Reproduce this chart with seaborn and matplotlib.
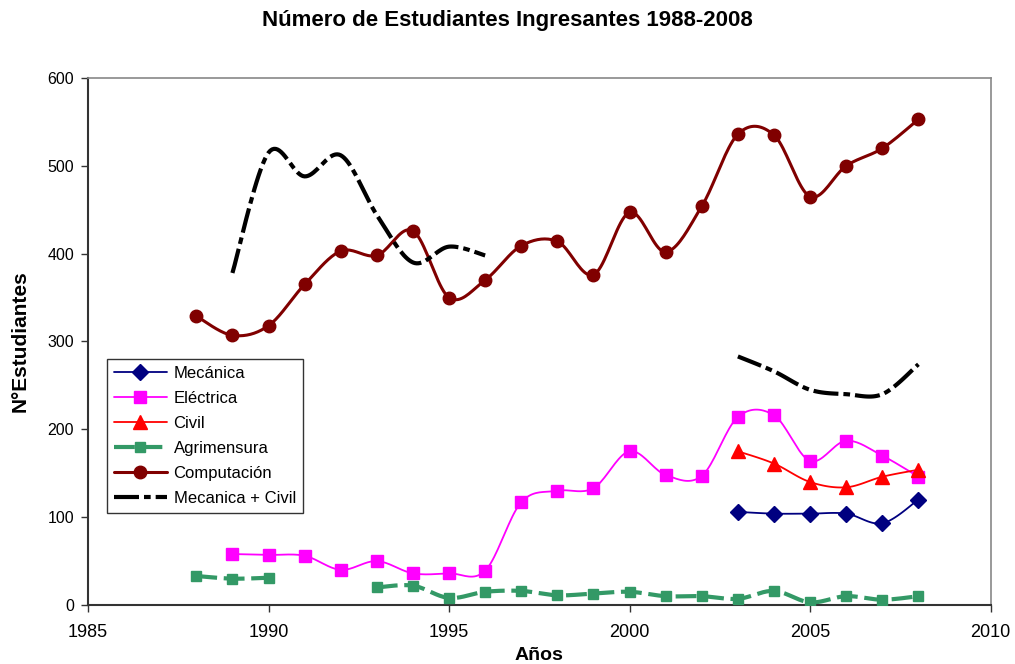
import numpy as np
import pandas as pd
import matplotlib
matplotlib.use("Agg")
import matplotlib.pyplot as plt
from matplotlib.lines import Line2D
import seaborn as sns

# datos
anios = list(range(1988, 2009))
mecanica = [np.nan] * 15 + [106, 104, 104, 104, 93, 120]
electrica = [np.nan, 58, 57, 56, 40, 50, 36, 36, 39, 117, 130, 133, 175, 148, 147,
             214, 216, 164, 187, 170, 146]
civil = [np.nan] * 15 + [175, 161, 140, 134, 146, 154]
agrimensura = [33, 30, 31, np.nan, np.nan, 20, 22, 8, 15, 16, 11, 13, 15, 10, 10,
               7, 16, 3, 10, 6, 10]
computacion = [329, 307, 318, 365, 403, 398, 426, 350, 370, 409, 414, 376, 447, 402,
               454, 536, 535, 465, 500, 520, 553]
mec_civil = [np.nan, 378, 515, 488, 512, 444, 390, 408, 398] + [np.nan] * 6 + \
            [283, 266, 245, 240, 240, 274]

sns.set_style("white", {"text.color": "black", "axes.labelcolor": "black",
                        "xtick.color": "black", "ytick.color": "black"})
plt.rcParams['font.family'] = ['Liberation Sans', 'DejaVu Sans']


def suavizar(x, y, n=20):
    # curva suavizada tipo Excel (bezier con tangentes de Catmull-Rom) por tramo sin huecos
    x = np.asarray(x, float)
    y = np.asarray(y, float)
    tramos = []
    ok = ~np.isnan(y)
    i = 0
    while i < len(y):
        if ok[i]:
            j = i
            while j + 1 < len(y) and ok[j + 1]:
                j += 1
            tramos.append((i, j))
            i = j + 1
        else:
            i += 1
    xs, ys, grp = [], [], []
    for k, (a, b) in enumerate(tramos):
        px, py = x[a:b + 1], y[a:b + 1]
        m = len(px)
        if m == 1:
            continue
        for s in range(m - 1):
            p0 = (px[max(s - 1, 0)], py[max(s - 1, 0)])
            p1 = (px[s], py[s])
            p2 = (px[s + 1], py[s + 1])
            p3 = (px[min(s + 2, m - 1)], py[min(s + 2, m - 1)])
            c1 = (p1[0] + (p2[0] - p0[0]) / 6, p1[1] + (p2[1] - p0[1]) / 6)
            c2 = (p2[0] - (p3[0] - p1[0]) / 6, p2[1] - (p3[1] - p1[1]) / 6)
            t = np.linspace(0, 1, n, endpoint=(s == m - 2))
            bx = (1 - t) ** 3 * p1[0] + 3 * (1 - t) ** 2 * t * c1[0] + 3 * (1 - t) * t ** 2 * c2[0] + t ** 3 * p2[0]
            by = (1 - t) ** 3 * p1[1] + 3 * (1 - t) ** 2 * t * c1[1] + 3 * (1 - t) * t ** 2 * c2[1] + t ** 3 * p2[1]
            xs.extend(bx)
            ys.extend(by)
            grp.extend([k] * len(t))
    return pd.DataFrame({"x": xs, "y": ys, "g": grp})


fig, ax = plt.subplots(figsize=(10.15, 6.64), dpi=100)
fig.subplots_adjust(left=0.0867, right=0.976, top=0.8825, bottom=0.0889)

series = [
    ("Mecánica", mecanica, "#000080", 1.3, None, "D", 8),
    ("Eléctrica", electrica, "#FF00FF", 1.3, None, "s", 9),
    ("Civil", civil, "#FF0000", 1.3, None, "^", 10),
    ("Agrimensura", agrimensura, "#339966", 3.0, (5, 1.6), "s", 7.5),
    ("Computación", computacion, "#800000", 2.2, None, "o", 9),
    ("Mecanica + Civil", mec_civil, "black", 3.0, (6, 1.2, 1.6, 1.2), None, 0),
]

handles = []
for nombre, vals, color, lw, dash, mk, ms in series:
    curva = suavizar(anios, vals)
    for g, sub in curva.groupby("g"):
        n0 = len(ax.lines)
        sns.lineplot(data=sub, x="x", y="y", sort=False, estimator=None,
                     color=color, linewidth=lw, ax=ax, legend=False)
        if dash is not None:
            ax.lines[n0].set_dashes(dash)
    if mk is not None:
        df = pd.DataFrame({"anio": anios, "valor": vals}).dropna()
        ax.plot(df["anio"], df["valor"], linestyle="none", marker=mk,
                markersize=ms, color=color, markeredgecolor=color, zorder=3)
    h = Line2D([0], [0], color=color, linewidth=lw, marker=mk, markersize=ms,
               markeredgecolor=color)
    if dash is not None:
        h.set_dashes(dash)
    handles.append(h)

ax.set_xlim(1985, 2010)
ax.set_ylim(0, 600)
ax.set_xticks(range(1985, 2011, 5))
ax.set_yticks(range(0, 601, 100))
ax.tick_params(axis="x", labelsize=13, direction="out", length=5, width=1,
               bottom=True, color="#333333", labelcolor="black", pad=9)
ax.tick_params(axis="y", labelsize=11.5, direction="out", length=5, width=1,
               left=True, color="#333333", labelcolor="black", pad=5)
for lado in ["left", "bottom"]:
    ax.spines[lado].set_color("#333333")
    ax.spines[lado].set_linewidth(1.5)
for lado in ["top", "right"]:
    ax.spines[lado].set_color("#888888")
    ax.spines[lado].set_linewidth(1.2)

ax.set_xlabel("Años", fontsize=14, fontweight="bold", labelpad=4, color="black")
ax.set_ylabel("N°Estudiantes", fontsize=15, fontweight="bold", labelpad=13,
              color="black")
fig.suptitle("Número de Estudiantes Ingresantes 1988-2008", fontsize=16,
             fontweight="bold", y=0.985, color="black")

leg = ax.legend(handles, [s[0] for s in series], loc="lower left",
                bbox_to_anchor=(0.021, 0.175), fontsize=12, frameon=True,
                fancybox=False, edgecolor="black", handlelength=3.2,
                borderpad=0.4, labelspacing=0.6, handletextpad=0.4,
                borderaxespad=0)
leg.get_frame().set_linewidth(1.0)
for txt in leg.get_texts():
    txt.set_color("black")

fig.savefig("out.png", dpi=100)
